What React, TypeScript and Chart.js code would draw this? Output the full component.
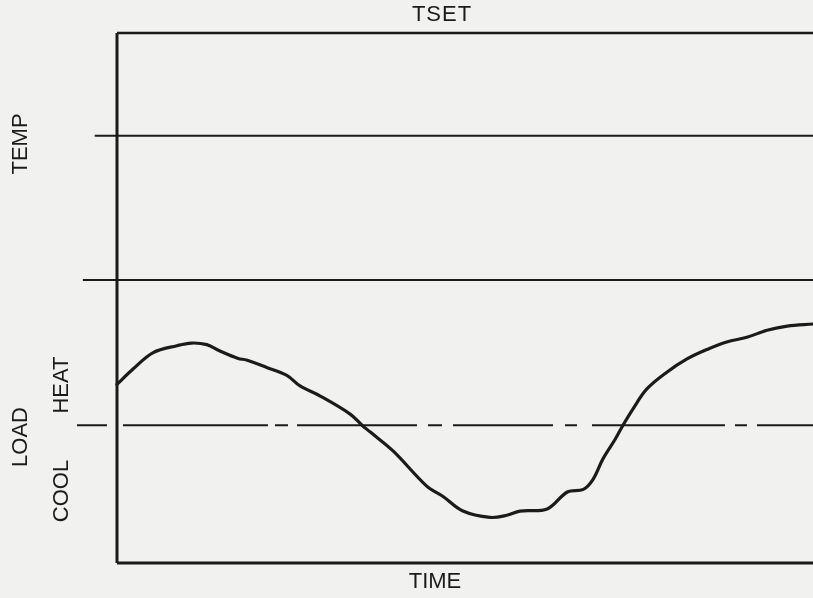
import React, { useEffect, useRef } from "react";
import { Chart, registerables } from "chart.js";

Chart.register(...registerables);

// Time axis (0..100) and load values (0 = balance point, + heat, - cool)
const timeValues = [0, 2.3, 5.2, 8.6, 10.7, 12.9, 14.8, 17.4, 18.6, 21.5, 24.4, 26.3, 29.2, 33.5, 35.2, 36.4, 39.7, 44.5, 46.8, 49.7, 53.6, 56.0, 57.9, 61.8, 64.7, 67.0, 68.4, 69.8, 71.6, 72.7, 74.1, 76.1, 79.0, 81.9, 84.8, 87.6, 90.5, 93.4, 96.3, 100];
const loadValues = [7.7, 10.6, 13.7, 15.0, 15.5, 15.2, 14.0, 12.6, 12.3, 10.9, 9.4, 7.4, 5.5, 2.1, 0, -1.3, -4.9, -11.5, -13.4, -16.2, -17.4, -17.0, -16.2, -15.8, -12.6, -12.1, -10.2, -6.4, -2.6, 0, 3.0, 6.8, 10.0, 12.5, 14.3, 15.7, 16.6, 17.9, 18.7, 19.1];

// Scale extents
const xMin = 0;
const xMax = 100;
const yMin = -26;
const yMax = 74;

// Reference levels
const tsetLevel = 74;
const tempLevel = 54.6;
const upperLevel = 27.4;
const zeroLevel = 0;

// Where reference lines begin (they extend left of the axis)
const tempLineStart = -3.2;
const upperLineStart = -4.9;
const zeroLineStart = -5.75;

// Text labels
const titleText = "TSET";
const xAxisText = "TIME";
const tempText = "TEMP";
const loadText = "LOAD";
const heatText = "HEAT";
const coolText = "COOL";

const INK = "#1b1b1b";
const BG = "#f1f1ef";
const FONT = '22px "Liberation Sans", Arial, sans-serif';

export default function App() {
  const ref = useRef<HTMLCanvasElement | null>(null);

  useEffect(() => {
    const canvas = ref.current;
    if (!canvas) return;

    const bgPlugin = {
      id: "bg",
      beforeDraw(chart: any) {
        const ctx = chart.ctx;
        ctx.save();
        ctx.fillStyle = BG;
        ctx.fillRect(0, 0, chart.width, chart.height);
        ctx.restore();
      },
    };

    const textPlugin = {
      id: "labels",
      afterDraw(chart: any) {
        const ctx = chart.ctx;
        ctx.save();
        ctx.fillStyle = INK;
        ctx.font = FONT;
        ctx.textAlign = "center";
        ctx.textBaseline = "middle";
        (ctx as any).letterSpacing = "1px";
        ctx.fillText(titleText, 442, 15);
        (ctx as any).letterSpacing = "0px";
        ctx.fillText(xAxisText, 435, 582);
        const rot = (t: string, x: number, y: number) => {
          ctx.save();
          ctx.translate(x, y);
          ctx.rotate(-Math.PI / 2);
          ctx.fillText(t, 0, 0);
          ctx.restore();
        };
        rot(tempText, 21, 144);
        rot(loadText, 21, 437);
        rot(heatText, 62, 385);
        rot(coolText, 62, 491);
        ctx.restore();
      },
    };

    const lineDs = (data: { x: number; y: number }[], width: number, extra: any = {}) => ({
      data,
      borderColor: INK,
      borderWidth: width,
      pointRadius: 0,
      fill: false,
      clip: false,
      tension: 0,
      borderCapStyle: "butt",
      ...extra,
    });

    const chart = new Chart(canvas, {
      type: "line",
      data: {
        datasets: [
          lineDs(
            timeValues.map((t, i) => ({ x: t, y: loadValues[i] })),
            3.2,
            { tension: 0.35, borderCapStyle: "round", borderJoinStyle: "round" }
          ),
          lineDs([{ x: xMin, y: tsetLevel }, { x: xMax, y: tsetLevel }], 2.5),
          lineDs([{ x: tempLineStart, y: tempLevel }, { x: xMax, y: tempLevel }], 2),
          lineDs([{ x: upperLineStart, y: upperLevel }, { x: xMax, y: upperLevel }], 2),
          lineDs([{ x: zeroLineStart, y: zeroLevel }, { x: xMax, y: zeroLevel }], 2, {
            borderDash: [30, 16, 145, 7, 13, 9, 120, 11, 14, 11, 100, 12, 12, 15, 133, 10, 12, 10, 60],
          }),
          lineDs([{ x: xMin, y: yMin }, { x: xMin, y: yMax }], 3),
          lineDs([{ x: xMin, y: yMin }, { x: xMax, y: yMin }], 3),
        ],
      },
      options: {
        animation: false,
        responsive: false,
        maintainAspectRatio: false,
        layout: { padding: { left: 117, top: 33, right: 0, bottom: 35 } },
        plugins: {
          legend: { display: false },
          tooltip: { enabled: false },
          title: { display: false },
        },
        scales: {
          x: { type: "linear", min: xMin, max: xMax, display: false },
          y: { type: "linear", min: yMin, max: yMax, display: false },
        },
      },
      plugins: [bgPlugin, textPlugin],
    } as any);

    return () => chart.destroy();
  }, []);

  return (
    <div style={{ position: "fixed", left: 0, top: 0, width: 813, height: 598, background: BG }}>
      <canvas ref={ref} width={813} height={598} style={{ display: "block" }} />
    </div>
  );
}
